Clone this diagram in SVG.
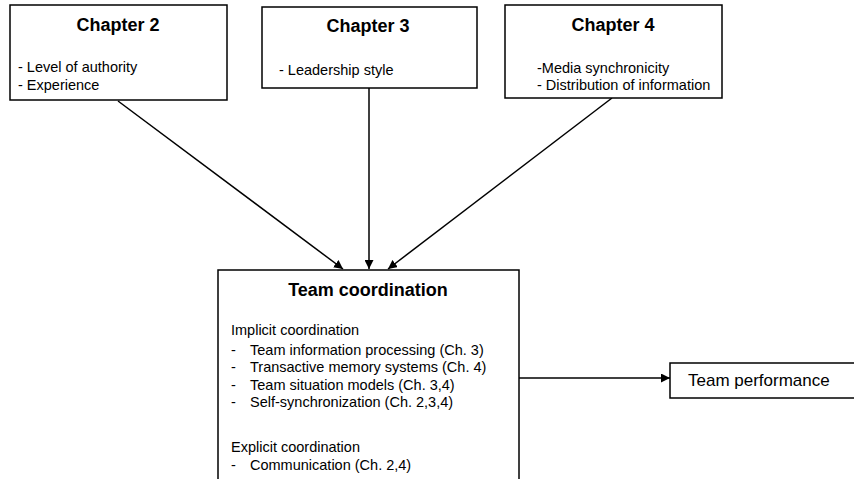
<svg xmlns="http://www.w3.org/2000/svg" width="854" height="479" viewBox="0 0 854 479">
<style>
.box{fill:#fff;stroke:#000;stroke-width:1.5}
.t{font-family:"Liberation Sans",Arial,sans-serif;font-weight:bold;font-size:18px;fill:#000;text-anchor:middle}
.b{font-family:"Liberation Sans",Arial,sans-serif;font-size:14.5px;fill:#000}
.p{font-family:"Liberation Sans",Arial,sans-serif;font-size:17px;fill:#000}
.c{stroke:#000;stroke-width:1.5;fill:none;marker-end:url(#ah)}
</style>
<defs>
<marker id="ah" viewBox="0 0 10 10" refX="10" refY="5" markerWidth="6" markerHeight="6" markerUnits="strokeWidth" orient="auto">
<path d="M0,0 L10,5 L0,10 z" fill="#000"/>
</marker>
</defs>
<rect width="854" height="479" fill="#fff"/>
<g id="connectors">
<line class="c" x1="118" y1="101" x2="343" y2="269"/>
<line class="c" x1="369" y1="88" x2="369" y2="269"/>
<line class="c" x1="612" y1="98" x2="388" y2="269"/>
<line class="c" x1="519" y1="378" x2="670" y2="378"/>
</g>
<g id="chapter2">
<rect class="box" x="10" y="5" width="217" height="95"/>
<text class="t" x="118" y="31">Chapter 2</text>
<text class="b" x="18" y="72">- Level of authority</text>
<text class="b" x="18" y="90">- Experience</text>
</g>
<g id="chapter3">
<rect class="box" x="262" y="7" width="215" height="81"/>
<text class="t" x="368" y="32">Chapter 3</text>
<text class="b" x="279" y="75">- Leadership style</text>
</g>
<g id="chapter4">
<rect class="box" x="505" y="5" width="217" height="93"/>
<text class="t" x="613" y="31">Chapter 4</text>
<text class="b" x="537" y="73">-Media synchronicity</text>
<text class="b" x="537" y="90">- Distribution of information</text>
</g>
<g id="team-coordination">
<rect class="box" x="218" y="270" width="301" height="220"/>
<text class="t" x="368" y="296">Team coordination</text>
<text class="b" x="231" y="335">Implicit coordination</text>
<text class="b" x="231" y="355">-</text><text class="b" x="250" y="355">Team information processing (Ch. 3)</text>
<text class="b" x="231" y="372">-</text><text class="b" x="250" y="372">Transactive memory systems (Ch. 4)</text>
<text class="b" x="231" y="390">-</text><text class="b" x="250" y="390">Team situation models (Ch. 3,4)</text>
<text class="b" x="231" y="407">-</text><text class="b" x="250" y="407">Self-synchronization (Ch. 2,3,4)</text>
<text class="b" x="231" y="452">Explicit coordination</text>
<text class="b" x="231" y="470">-</text><text class="b" x="250" y="470">Communication (Ch. 2,4)</text>
</g>
<g id="team-performance">
<rect class="box" x="670" y="363" width="200" height="35"/>
<text class="p" x="688" y="386">Team performance</text>
</g>
</svg>
